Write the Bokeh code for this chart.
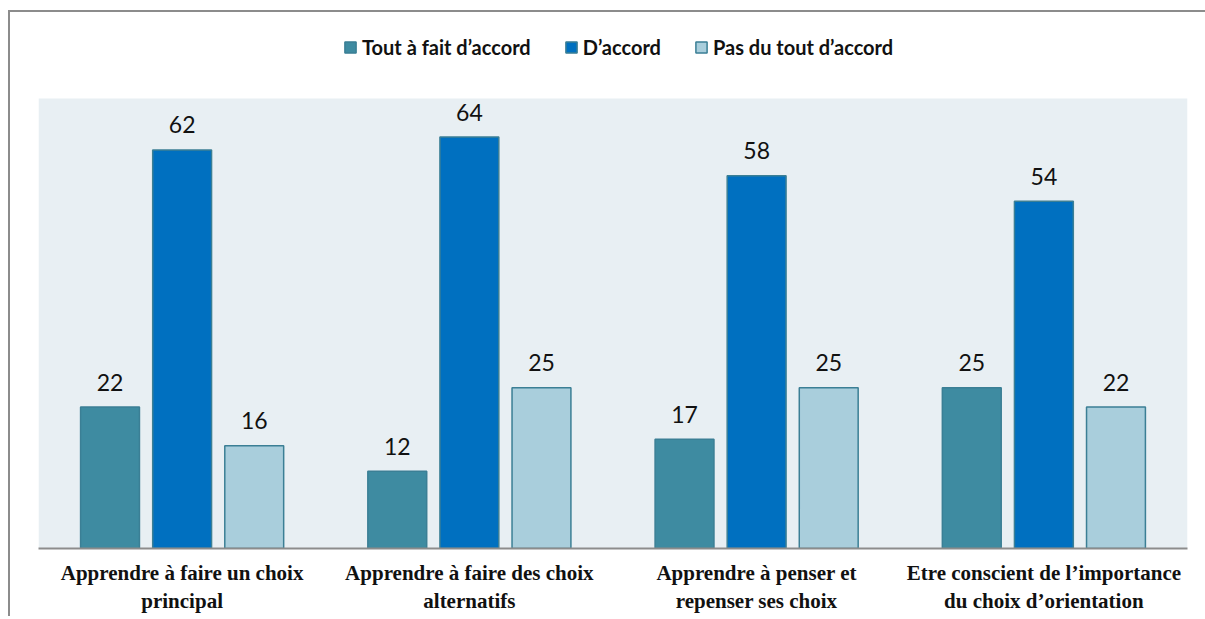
from bokeh.plotting import figure
from bokeh.models import Range1d, FixedTicker, Legend, LegendItem, BoxAnnotation
from bokeh.core.properties import value
from bokeh.embed import file_html
from bokeh.resources import INLINE

# ---- data ----
categories = [
    "Apprendre à faire un choix\nprincipal",
    "Apprendre à faire des choix\nalternatifs",
    "Apprendre à penser et\nrepenser ses choix",
    "Etre conscient de l’importance\ndu choix d’orientation",
]
series_names = ["Tout à fait d’accord", "D’accord", "Pas du tout d’accord"]
tout_a_fait = [22, 12, 17, 25]
d_accord = [62, 64, 58, 54]
pas_du_tout = [16, 25, 25, 22]

series_values = [tout_a_fait, d_accord, pas_du_tout]
colors = ["#3E8BA1", "#0070C0", "#A9CEDC"]
offsets = [-0.251, 0.0, 0.251]
bar_w = 0.205

Y_MAX = 70            # top of the shaded plot area
FRAME_H = 536         # frame includes the legend band above the shaded area
SHADE_H = 450
y_top = Y_MAX * FRAME_H / SHADE_H

p = figure(frame_width=1149, frame_height=FRAME_H, width=1195,
           output_backend="svg", toolbar_location=None,
           x_range=Range1d(-0.5, 3.5), y_range=Range1d(0, y_top),
           min_border_left=28, min_border_right=18, min_border_top=0, min_border_bottom=40)
p.styles = {"border-top": "2px solid #8c8c8c", "border-left": "2px solid #8c8c8c",
            "margin-top": "10px", "margin-left": "8px"}
p.background_fill_color = "white"
p.border_fill_color = "white"
p.outline_line_color = None
p.xgrid.visible = False
p.ygrid.visible = False
p.yaxis.visible = False

p.add_layout(BoxAnnotation(left=-0.5, right=3.5, bottom=0, top=Y_MAX,
                           fill_color="#E8EFF3", fill_alpha=1, line_color=None,
                           level="underlay"))

items = []
for name, vals, col, off in zip(series_names, series_values, colors, offsets):
    xs = [i + off for i in range(len(vals))]
    r = p.vbar(x=xs, top=vals, width=bar_w, bottom=0, fill_color=col,
               line_color="#3B7F95", line_width=1.5)
    p.text(x=xs, y=vals, text=[str(v) for v in vals], text_align="center",
           text_baseline="alphabetic", y_offset=-25, text_font=value("Lato"),
           text_font_size="23px", text_color="#111111")
    items.append(LegendItem(label=name, renderers=[r]))

legend = Legend(items=items, orientation="horizontal", location=(305, 489),
                label_text_font="Lato", label_text_font_style="bold",
                label_text_font_size="20px", label_text_color="#111111",
                label_height=20,
                glyph_width=14, glyph_height=14, spacing=33, label_standoff=5,
                padding=0, margin=0, border_line_color=None,
                background_fill_alpha=0)
p.add_layout(legend)

ax = p.xaxis[0]
ax.ticker = FixedTicker(ticks=[0, 1, 2, 3])
ax.major_label_overrides = {i: c for i, c in enumerate(categories)}
ax.major_tick_line_color = None
ax.minor_tick_line_color = None
ax.major_tick_out = 0
ax.major_tick_in = 0
ax.axis_line_color = "#8c8c8c"
ax.axis_line_width = 2
ax.major_label_text_font = "Liberation Serif"
ax.major_label_text_font_style = "bold"
ax.major_label_text_font_size = "21px"
ax.major_label_text_color = "#111111"
ax.major_label_standoff = 12

open("out.html", "w").write(file_html(p, INLINE))
